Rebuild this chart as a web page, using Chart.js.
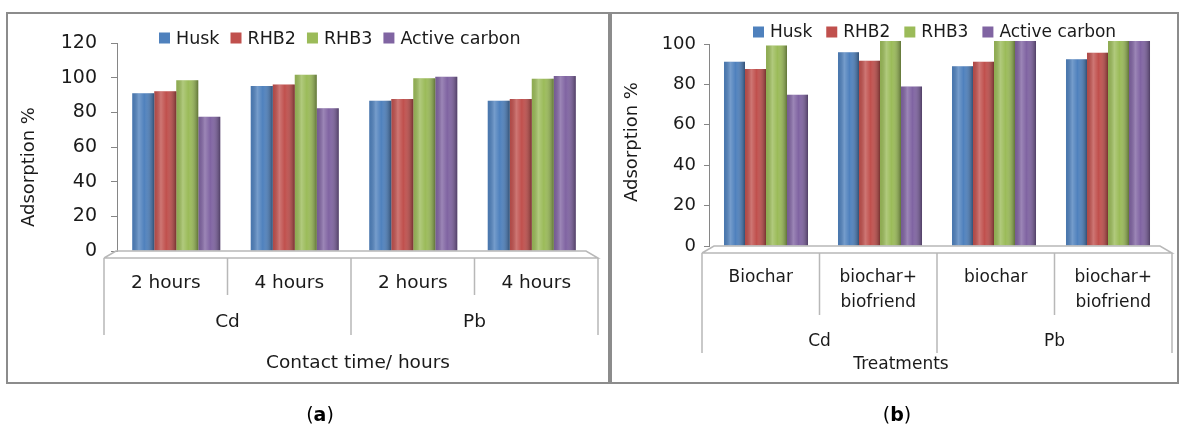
<!DOCTYPE html>
<html><head><meta charset="utf-8">
<script src="https://cdn.jsdelivr.net/npm/chart.js@4.4.1/dist/chart.umd.min.js"></script>
<style>
html,body{margin:0;padding:0;background:#fff;width:1183px;height:425px;overflow:hidden;font-family:"DejaVu Sans",sans-serif;}
.panel{position:absolute;top:12px;height:372px;border:2px solid #8c8c8c;box-sizing:border-box;}
canvas{position:absolute;top:0;}
.cap{position:absolute;top:403px;font-size:19px;color:#000;width:60px;margin-left:-30px;text-align:center;}
</style></head>
<body>
<div class="panel" style="left:6px;width:604px"></div>
<div class="panel" style="left:610px;width:569px"></div>
<canvas id="ca" width="609" height="425" style="left:0;width:609px;height:425px"></canvas>
<canvas id="cb" width="574" height="425" style="left:609px;width:574px;height:425px"></canvas>
<div class="cap" style="left:320px">(<b>a</b>)</div>
<div class="cap" style="left:897px">(<b>b</b>)</div>
<script>
// ---- data ----
const seriesNames = ['Husk', 'RHB2', 'RHB3', 'Active carbon'];
const seriesColors = ['#4F81BD', '#C0504D', '#9BBB59', '#8064A2'];
const metals = ['Cd', 'Pb'];
// chart (a)
const catsA = ['2 hours', '4 hours', '2 hours', '4 hours'];
const huskA = [91.0, 95.2, 86.7, 86.7];
const rhb2A = [92.1, 96.0, 87.7, 87.7];
const rhb3A = [98.5, 101.7, 99.6, 99.4];
const activeA = [77.4, 82.3, 100.5, 100.9];
const ticksA = [0, 20, 40, 60, 80, 100, 120];
const xTitleA = 'Contact time/ hours';
// chart (b)
const catsB = [['Biochar'], ['biochar+', 'biofriend'], ['biochar'], ['biochar+', 'biofriend']];
const huskB = [91.2, 95.9, 89.0, 92.4];
const rhb2B = [87.6, 91.7, 91.2, 95.7];
const rhb3B = [99.2, 101.5, 101.5, 101.5];
const activeB = [74.9, 78.9, 101.5, 101.5];
const ticksB = [0, 20, 40, 60, 80, 100];
const xTitleB = 'Treatments';
const yTitle = 'Adsorption %';

Chart.defaults.font.family = '"DejaVu Sans", sans-serif';
Chart.defaults.color = '#1a1a1a';

const decor = {
  id: 'decor',
  afterDatasetsDraw(chart) {
    const ctx = chart.ctx;
    chart.data.datasets.forEach((ds, di) => {
      const meta = chart.getDatasetMeta(di);
      meta.data.forEach(el => {
        const l = el.x - el.width / 2, w = el.width;
        const top = el.y, h = el.base - el.y;
        const g = ctx.createLinearGradient(l, 0, l + w, 0);
        g.addColorStop(0, 'rgba(0,0,0,0.08)');
        g.addColorStop(0.3, 'rgba(255,255,255,0.22)');
        g.addColorStop(0.55, 'rgba(255,255,255,0.0)');
        g.addColorStop(1, 'rgba(0,0,0,0.38)');
        ctx.save();
        ctx.fillStyle = g;
        ctx.fillRect(l, top, w, h);
        ctx.restore();
      });
    });
  },
  afterDraw(chart, args, o) {
    const ctx = chart.ctx;
    const xs = chart.scales.x;
    ctx.save();
    // floor
    ctx.strokeStyle = '#b8b8b8';
    ctx.lineWidth = 1.5;
    ctx.beginPath();
    ctx.moveTo(o.tl, o.ftop);
    ctx.lineTo(o.tl + o.slant, o.fback);
    ctx.lineTo(o.tr - o.slant, o.fback);
    ctx.lineTo(o.tr, o.ftop);
    ctx.lineTo(o.tl, o.ftop);
    ctx.stroke();
    // table lines
    const n = chart.data.labels.length;
    const cw = (o.tr - o.tl) / n;
    ctx.beginPath();
    for (let i = 0; i <= n; i++) {
      const x = o.tl + cw * i;
      const outer = (i === 0 || i === n || i === n / 2);
      ctx.moveTo(x, o.ftop);
      ctx.lineTo(x, outer ? o.outerBottom : o.innerBottom);
    }
    ctx.stroke();
    // category labels
    ctx.fillStyle = '#1a1a1a';
    ctx.font = o.fs + 'px "DejaVu Sans"';
    ctx.textAlign = 'center';
    ctx.textBaseline = 'middle';
    chart.data.labels.forEach((lab, i) => {
      const lines = Array.isArray(lab) ? lab : [lab];
      lines.forEach((t, k) => ctx.fillText(t, o.tl + cw * (i + 0.5), o.labelY + k * o.lh));
    });
    metals.forEach((m, i) => ctx.fillText(m, o.tl + (o.tr - o.tl) * (i * 0.5 + 0.25), o.groupY));
    ctx.fillText(o.xTitle, o.xTitleX, o.xTitleY);
    // y title
    ctx.save();
    ctx.translate(o.yTitleX, o.yTitleY);
    ctx.rotate(-Math.PI / 2);
    ctx.font = o.yfs + 'px "DejaVu Sans"';
    ctx.fillText(yTitle, 0, 0);
    ctx.restore();
    // legend
    ctx.font = o.lfs + 'px "DejaVu Sans"';
    ctx.textAlign = 'left';
    let x = o.legX;
    chart.data.datasets.forEach(ds => {
      ctx.fillStyle = ds.backgroundColor;
      ctx.fillRect(x, o.legY - 5.5, 11, 11);
      x += 11 + o.legTextGap;
      ctx.fillStyle = '#1a1a1a';
      ctx.fillText(ds.label, x, o.legY + 1);
      x += ctx.measureText(ds.label).width + o.legGap;
    });
    ctx.restore();
  }
};

function makeChart(id, cats, vals, ticks, g) {
  return new Chart(document.getElementById(id), {
    type: 'bar',
    data: {
      labels: cats,
      datasets: vals.map((v, i) => ({
        label: seriesNames[i], data: v, backgroundColor: seriesColors[i],
        borderWidth: 0, categoryPercentage: g.catPct, barPercentage: 1, clip: false
      }))
    },
    options: {
      responsive: false, animation: false,
      layout: { padding: { top: g.top, bottom: g.bottom, right: g.right, left: 0 } },
      plugins: { legend: { display: false }, tooltip: { enabled: false }, decor: g.decor },
      scales: {
        x: { display: false },
        y: {
          min: 0, max: ticks[ticks.length - 1],
          afterBuildTicks: s => { s.ticks = ticks.map(v => ({ value: v })); },
          afterFit: s => { s.width = g.yWidth; },
          grid: { drawOnChartArea: false, drawTicks: true, tickLength: g.tickLen, color: '#868686' },
          border: { display: true, color: '#868686', width: 1 },
          ticks: { padding: g.tickPad, font: { size: g.tfs }, color: '#1a1a1a' }
        }
      }
    },
    plugins: [decor]
  });
}

makeChart('ca', catsA, [huskA, rhb2A, rhb3A, activeA], ticksA, {
  top: 43, bottom: 174, right: 18, yWidth: 117, catPct: 0.743, tickLen: 6, tickPad: 14, tfs: 19,
  decor: { tl: 104, tr: 598, slant: 12, ftop: 258, fback: 251, innerBottom: 295, outerBottom: 335,
    labelY: 283, lh: 24, groupY: 322, fs: 18.5, xTitle: xTitleA, xTitleX: 358, xTitleY: 363,
    yTitleX: 29, yTitleY: 167, yfs: 18, lfs: 17.5, legX: 159, legY: 38, legTextGap: 6, legGap: 11 }
});
makeChart('cb', catsB, [huskB, rhb2B, rhb3B, activeB], ticksB, {
  top: 44, bottom: 179, right: 18, yWidth: 100, catPct: 0.737, tickLen: 5, tickPad: 8, tfs: 18,
  decor: { tl: 93, tr: 563, slant: 12, ftop: 253, fback: 246, innerBottom: 315, outerBottom: 353,
    labelY: 278, lh: 25, groupY: 342, fs: 17, xTitle: xTitleB, xTitleX: 292, xTitleY: 365,
    yTitleX: 23, yTitleY: 142, yfs: 18, lfs: 17, legX: 144, legY: 32, legTextGap: 6, legGap: 14 }
});
</script>
</body></html>
